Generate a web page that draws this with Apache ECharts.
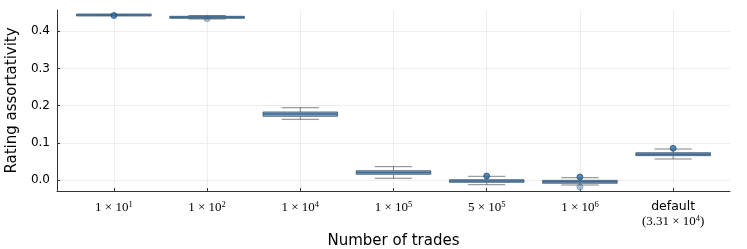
<!DOCTYPE html>
<html>
<head>
<meta charset="utf-8">
<script src="https://cdn.jsdelivr.net/npm/echarts@6/dist/echarts.min.js"></script>
<style>html,body{margin:0;padding:0;background:#fff}#c{width:747px;height:249px}</style>
</head>
<body>
<div id="c"></div>
<script>
// ---- data ----
const categories = ['1e1', '1e2', '1e4', '1e5', '5e5', '1e6', 'default'];
const tickMantissa = ['1', '1', '1', '1', '5', '1', '3.31'];
const tickExponent = ['1', '2', '4', '5', '5', '6', '4'];
const yTicks = [0.0, 0.1, 0.2, 0.3, 0.4];
const yTickLabels = ['0.0', '0.1', '0.2', '0.3', '0.4'];

const whiskerLow  = [0.4425, 0.4324, 0.1635, 0.0054, -0.0118, -0.0126, 0.0571];
const q1          = [0.4428, 0.4357, 0.1716, 0.0161, -0.0054, -0.0080, 0.0660];
const median      = [0.4432, 0.4370, 0.1777, 0.0209, -0.0019, -0.0040, 0.0700];
const q3          = [0.4436, 0.4383, 0.1831, 0.0257,  0.0016,  0.0000, 0.0740];
const whiskerHigh = [0.4438, 0.4418, 0.1946, 0.0365,  0.0107,  0.0070, 0.0839];

const outlierCat = [0, 4, 5, 6];
const outlierVal = [0.4418, 0.0115, 0.0088, 0.0858];
const hiddenOutlierCat = [1, 5];
const hiddenOutlierVal = [0.4332, -0.0180];

// ---- chart ----
const boxData = categories.map((c, i) => [i, whiskerLow[i], q1[i], median[i], q3[i], whiskerHigh[i]]);
const outData = outlierCat.map((c, i) => [c, outlierVal[i]]);
const hidData = hiddenOutlierCat.map((c, i) => [c, hiddenOutlierVal[i]]);

const chart = echarts.init(document.getElementById('c'), null, {renderer: 'canvas'});

function xLabel(v) {
  const i = Math.round(v);
  if (categories[i] === 'default') {
    return '{sans|default}\n{serif|(' + tickMantissa[i] + ' × 10}{sup|' + tickExponent[i] + '}{serif|)}';
  }
  return '{serif|' + tickMantissa[i] + ' × 10}{sup|' + tickExponent[i] + '}';
}

const option = {
  animation: false,
  backgroundColor: '#fff',
  grid: {left: 57, right: 17, top: 10, bottom: 58, containLabel: false, outerBoundsMode: 'none'},
  xAxis: {
    type: 'value',
    min: -0.61, max: 6.61,
    name: 'Number of trades',
    nameLocation: 'middle',
    nameGap: 43,
    nameTextStyle: {fontFamily: 'DejaVu Sans', fontSize: 15, color: '#000'},
    axisLine: {show: true, onZero: false, lineStyle: {color: '#333', width: 1}},
    axisTick: {show: true, inside: true, length: 3, customValues: categories.map((c, i) => i), lineStyle: {color: '#333'}},
    splitLine: {show: true, lineStyle: {color: '#eeeeee', width: 1}},
    axisLabel: {
      customValues: categories.map((c, i) => i),
      margin: 9,
      formatter: xLabel,
      rich: {
        serif: {fontFamily: 'Liberation Serif', fontSize: 13, color: '#000', lineHeight: 16},
        sup: {fontFamily: 'Liberation Serif', fontSize: 8.5, color: '#000', lineHeight: 6, verticalAlign: 'top'},
        sans: {fontFamily: 'DejaVu Sans', fontSize: 12.5, color: '#000', lineHeight: 14}
      }
    }
  },
  yAxis: {
    type: 'value',
    min: -0.0287, max: 0.4566,
    name: 'Rating assortativity',
    nameLocation: 'middle',
    nameGap: 36,
    nameTextStyle: {fontFamily: 'DejaVu Sans', fontSize: 15, color: '#000'},
    axisLine: {show: true, onZero: false, lineStyle: {color: '#333', width: 1}},
    axisTick: {show: true, inside: true, length: 3, customValues: yTicks, lineStyle: {color: '#333'}},
    splitLine: {show: true, lineStyle: {color: '#eeeeee', width: 1}},
    axisLabel: {
      customValues: yTicks,
      margin: 7,
      fontFamily: 'DejaVu Sans', fontSize: 12, color: '#000',
      formatter: v => yTickLabels[yTicks.findIndex(t => Math.abs(t - v) < 1e-9)]
    }
  },
  series: [
    {
      type: 'scatter',
      data: hidData,
      symbolSize: 6,
      z: 1,
      itemStyle: {color: '#8db3d3', borderColor: '#6f8da8', borderWidth: 0.8}
    },
    {
      type: 'custom',
      data: boxData,
      z: 2,
      encode: {x: 0, y: [1, 2, 3, 4, 5]},
      renderItem: function (params, api) {
        const x = api.value(0);
        const pLo = api.coord([x, api.value(1)]);
        const pQ1 = api.coord([x, api.value(2)]);
        const pMed = api.coord([x, api.value(3)]);
        const pQ3 = api.coord([x, api.value(4)]);
        const pHi = api.coord([x, api.value(5)]);
        const bw = api.size([1, 0])[0] * 0.8;
        const cw = bw / 2;
        const cx = pMed[0];
        const wStyle = {stroke: 'rgba(90,90,90,0.75)', lineWidth: 1};
        const h = Math.max(pQ1[1] - pQ3[1], 2);
        const mid = (pQ1[1] + pQ3[1]) / 2;
        return {
          type: 'group',
          children: [
            {type: 'line', shape: {x1: cx, y1: pHi[1], x2: cx, y2: pQ3[1]}, style: wStyle},
            {type: 'line', shape: {x1: cx, y1: pQ1[1], x2: cx, y2: pLo[1]}, style: wStyle},
            {type: 'line', shape: {x1: cx - cw / 2, y1: pHi[1], x2: cx + cw / 2, y2: pHi[1]}, style: wStyle},
            {type: 'line', shape: {x1: cx - cw / 2, y1: pLo[1], x2: cx + cw / 2, y2: pLo[1]}, style: wStyle},
            {type: 'rect', shape: {x: cx - bw / 2, y: mid - h / 2, width: bw, height: h},
              style: {fill: 'rgba(110,150,190,0.8)', stroke: 'rgba(60,85,110,0.8)', lineWidth: 1}},
            {type: 'line', shape: {x1: cx - bw / 2, y1: pMed[1], x2: cx + bw / 2, y2: pMed[1]},
              style: {stroke: '#3a6890', lineWidth: 1.5}}
          ]
        };
      }
    },
    {
      type: 'scatter',
      data: outData,
      symbolSize: 6,
      z: 3,
      itemStyle: {color: '#2b6ea6', borderColor: '#1c3d5c', borderWidth: 0.8}
    }
  ]
};
chart.setOption(option);
</script>
</body>
</html>
